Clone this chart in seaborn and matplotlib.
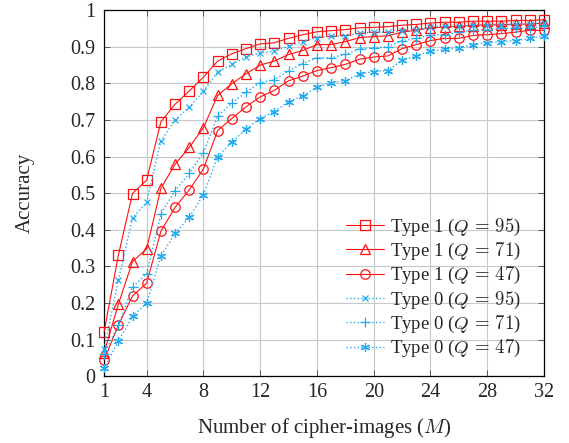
import numpy as np
import pandas as pd
import matplotlib
matplotlib.use("Agg")
import matplotlib.pyplot as plt
import seaborn as sns

M = list(range(1, 33))

type1_q95 = [0.121, 0.33, 0.499, 0.536, 0.695, 0.743, 0.779, 0.817, 0.861, 0.881, 0.895, 0.908,
             0.911, 0.923, 0.933, 0.941, 0.944, 0.947, 0.952, 0.953, 0.955, 0.959, 0.961, 0.965,
             0.967, 0.967, 0.970, 0.970, 0.970, 0.972, 0.972, 0.974]
type1_q71 = [0.064, 0.196, 0.313, 0.348, 0.513, 0.579, 0.625, 0.679, 0.767, 0.799, 0.826, 0.850,
             0.861, 0.879, 0.890, 0.906, 0.906, 0.914, 0.925, 0.928, 0.930, 0.940, 0.945, 0.952,
             0.954, 0.956, 0.958, 0.960, 0.960, 0.962, 0.962, 0.965]
type1_q47 = [0.044, 0.139, 0.219, 0.254, 0.396, 0.461, 0.509, 0.566, 0.671, 0.704, 0.736, 0.763,
             0.781, 0.807, 0.820, 0.835, 0.843, 0.852, 0.866, 0.872, 0.875, 0.895, 0.906, 0.917,
             0.923, 0.923, 0.931, 0.933, 0.936, 0.940, 0.945, 0.945]
type0_q95 = [0.075, 0.262, 0.432, 0.475, 0.643, 0.700, 0.735, 0.779, 0.831, 0.852, 0.872, 0.883,
             0.888, 0.902, 0.914, 0.925, 0.929, 0.929, 0.937, 0.940, 0.940, 0.943, 0.946, 0.954,
             0.956, 0.956, 0.960, 0.960, 0.960, 0.962, 0.962, 0.965]
type0_q71 = [0.060, 0.139, 0.243, 0.280, 0.443, 0.507, 0.554, 0.611, 0.710, 0.746, 0.776, 0.802,
             0.810, 0.834, 0.854, 0.870, 0.870, 0.879, 0.894, 0.897, 0.900, 0.917, 0.923, 0.933,
             0.933, 0.940, 0.945, 0.947, 0.950, 0.950, 0.952, 0.956]
type0_q47 = [0.021, 0.095, 0.163, 0.200, 0.328, 0.390, 0.434, 0.496, 0.600, 0.639, 0.675, 0.704,
             0.723, 0.750, 0.766, 0.790, 0.802, 0.807, 0.826, 0.832, 0.835, 0.863, 0.875, 0.888,
             0.893, 0.897, 0.906, 0.911, 0.914, 0.917, 0.923, 0.929]

labels = [r"Type 1 ($Q\,=\,95$)", r"Type 1 ($Q\,=\,71$)", r"Type 1 ($Q\,=\,47$)",
          r"Type 0 ($Q\,=\,95$)", r"Type 0 ($Q\,=\,71$)", r"Type 0 ($Q\,=\,47$)"]
series = [type1_q95, type1_q71, type1_q47, type0_q95, type0_q71, type0_q47]
x_ticks = [1, 4, 8, 12, 16, 20, 24, 28, 32]
y_ticks = [0, 0.1, 0.2, 0.3, 0.4, 0.5, 0.6, 0.7, 0.8, 0.9, 1]
y_ticklabels = ["0", "0.1", "0.2", "0.3", "0.4", "0.5", "0.6", "0.7", "0.8", "0.9", "1"]

sns.set_theme(style="white")
plt.rcParams["font.family"] = ["Liberation Serif", "DejaVu Serif"]
plt.rcParams["mathtext.fontset"] = "cm"

RED = "#ff1010"
BLUE = "#22aaee"
styles = [
    dict(color=RED, marker="s", ms=6.5, ls="-", lw=0.8),
    dict(color=RED, marker="^", ms=6.5, ls="-", lw=0.8),
    dict(color=RED, marker="o", ms=6.8, ls="-", lw=0.8),
    dict(color=BLUE, marker="x", ms=5.0, ls=":", lw=1.0),
    dict(color=BLUE, marker="+", ms=6.5, ls=":", lw=1.0),
    dict(color=BLUE, marker=(6, 2, 0), ms=6.5, ls=":", lw=1.0),
]

fig = plt.figure(figsize=(5.69, 4.43), dpi=100)
ax = fig.add_axes([0.183, 0.151, 0.773, 0.826])

for lab, vals, st in zip(labels, series, styles):
    df = pd.DataFrame({"M": M, "acc": vals})
    filled = st["marker"] in ("x", "+", (6, 2, 0))
    sns.lineplot(data=df, x="M", y="acc", ax=ax, label=lab, color=st["color"],
                 linestyle=st["ls"], linewidth=st["lw"], marker=st["marker"],
                 markersize=st["ms"],
                 markerfacecolor=st["color"] if filled else "none",
                 markeredgecolor=st["color"], markeredgewidth=0.9,
                 clip_on=False, zorder=3)

ax.set_xlim(1, 32)
ax.set_ylim(0, 1)
ax.set_xticks(x_ticks)
ax.set_yticks(y_ticks)
ax.set_yticklabels(y_ticklabels)
ax.grid(True, color="#c8c8c8", linewidth=0.8)
ax.set_axisbelow(True)
for s in ax.spines.values():
    s.set_color("black")
    s.set_linewidth(0.9)
    s.set_zorder(2)
ax.tick_params(direction="in", length=4, width=0.7, color="#555555", labelsize=14.5,
               top=True, right=True, bottom=True, left=True)
ax.tick_params(axis="x", pad=5)
ax.tick_params(axis="y", pad=6.5)
ax.set_xlabel(r"Number of cipher-images ($M$)", fontsize=15, labelpad=10)
ax.set_ylabel("Accuracy", fontsize=15, labelpad=25)

leg = ax.legend(loc="upper left", bbox_to_anchor=(0.551, 0.436), fontsize=13.5,
                frameon=False, handlelength=2.0, borderpad=0, labelspacing=0.17,
                handletextpad=0.3, borderaxespad=0)

fig.savefig("out.png", dpi=100)
